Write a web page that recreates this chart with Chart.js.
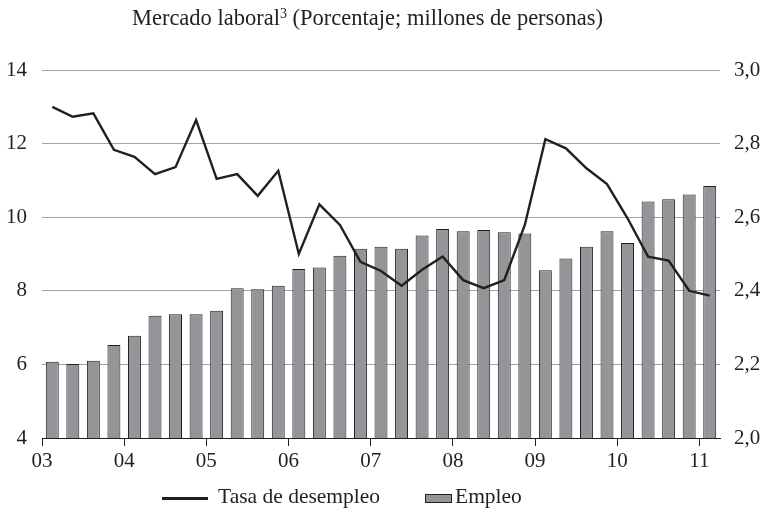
<!DOCTYPE html>
<html lang="es">

<head>
    <meta charset="UTF-8">
    <title>Mercado laboral</title>
    <style>
        body { margin: 0; background: #fff; }
        #wrap { position: relative; width: 768px; height: 519px; }
        #wrap canvas { position: absolute; left: 0; top: 0; }
        .txt { position: absolute; font-family: "Liberation Serif", serif; color: #231f20; white-space: nowrap; }
        .leg { font-size: 21.5px; line-height: 21.5px; }
        #title { left: 0; width: 735px; top: 7px; text-align: center; font-size: 22.5px; line-height: 22.5px; }
        #title sup { font-size: 14px; line-height: 0; vertical-align: 7px; }
    </style>
</head>

<body>

<div id="wrap">
    <canvas id="laborChart" width="768" height="519"></canvas>

    <div id="title" class="txt">Mercado laboral<sup>3</sup> (Porcentaje; millones de personas)</div>

    <!-- Leyenda -->
    <div class="txt" style="left:162px; top:497px; width:46px; height:2.5px; background:#231f20;"></div>
    <div class="txt leg" style="left:218px; top:486px;">Tasa de desempleo</div>
    <div class="txt" style="left:425px; top:494px; width:25px; height:7px; background:#939598; border:1px solid #231f20;"></div>
    <div class="txt leg" style="left:455px; top:486px;">Empleo</div>
</div>

<script src="https://cdn.jsdelivr.net/npm/chart.js"></script>

<script>
    // Trimestres 2003T1 - 2011T1
    const quarters = [
        '2003T1', '2003T2', '2003T3', '2003T4',
        '2004T1', '2004T2', '2004T3', '2004T4',
        '2005T1', '2005T2', '2005T3', '2005T4',
        '2006T1', '2006T2', '2006T3', '2006T4',
        '2007T1', '2007T2', '2007T3', '2007T4',
        '2008T1', '2008T2', '2008T3', '2008T4',
        '2009T1', '2009T2', '2009T3', '2009T4',
        '2010T1', '2010T2', '2010T3', '2010T4',
        '2011T1'
    ];

    // Tasa de desempleo (%), eje izquierdo
    const desempleo = [
        13.0, 12.73, 12.82, 11.83,
        11.64, 11.17, 11.36, 12.64,
        11.04, 11.17, 10.58, 11.26,
        9.0, 10.35, 9.79, 8.79,
        8.54, 8.14, 8.57, 8.93,
        8.29, 8.07, 8.29, 9.79,
        12.12, 11.87, 11.33, 10.9,
        9.97, 8.93, 8.82, 8.0,
        7.87
    ];

    // Empleo (millones de personas), eje derecho
    const empleo = [
        2.207, 2.201, 2.21, 2.253,
        2.278, 2.332, 2.336, 2.336,
        2.346, 2.407, 2.404, 2.414,
        2.459, 2.463, 2.495, 2.514,
        2.52, 2.514, 2.55, 2.568,
        2.562, 2.565, 2.559, 2.556,
        2.456, 2.488, 2.52, 2.562,
        2.53, 2.643, 2.649, 2.662,
        2.685
    ];

    const yearLabels = ['03', '04', '05', '06', '07', '08', '09', '10', '11'];
    const leftTicks = [4, 6, 8, 10, 12, 14];
    const rightTicks = [2.0, 2.2, 2.4, 2.6, 2.8, 3.0];

    const ink = '#231f20';
    const serif = 'Liberation Serif';

    const ctx = document.getElementById('laborChart').getContext('2d');
    new Chart(ctx, {
        data: {
            labels: quarters,
            datasets: [{
                type: 'line',
                label: 'Tasa de desempleo',
                data: desempleo,
                yAxisID: 'y',
                borderColor: ink,
                borderWidth: 2.4,
                pointRadius: 0,
                tension: 0,
                order: 0
            }, {
                type: 'bar',
                label: 'Empleo',
                data: empleo,
                yAxisID: 'y1',
                backgroundColor: '#939598',
                borderColor: ink,
                borderWidth: 1,
                barPercentage: 0.63,
                categoryPercentage: 1,
                order: 1
            }]
        },
        options: {
            responsive: false,
            animation: false,
            layout: { padding: { left: 0, right: 0, top: 70, bottom: 40 } },
            plugins: {
                legend: { display: false },
                tooltip: { enabled: false },
                title: { display: false }
            },
            scales: {
                x: {
                    type: 'category',
                    display: false,
                    offset: true
                },
                xYear: {
                    type: 'linear',
                    position: 'bottom',
                    min: 0,
                    max: quarters.length,
                    afterBuildTicks: s => { s.ticks = yearLabels.map((l, i) => ({ value: i * 4 })); },
                    afterFit: s => { s.height = 41; },
                    ticks: {
                        autoSkip: false,
                        maxRotation: 0,
                        color: ink,
                        padding: 3,
                        font: { family: serif, size: 21 },
                        callback: v => yearLabels[v / 4]
                    },
                    grid: { drawOnChartArea: false, drawTicks: true, tickLength: 8, color: ink },
                    border: { display: true, color: ink, width: 1 }
                },
                y: {
                    position: 'left',
                    min: 4,
                    max: 14,
                    afterBuildTicks: s => { s.ticks = leftTicks.map(v => ({ value: v })); },
                    afterFit: s => { s.width = 42; },
                    ticks: {
                        color: ink,
                        padding: 15,
                        font: { family: serif, size: 21 }
                    },
                    grid: { color: '#a3a3a3', lineWidth: 1, drawTicks: false },
                    border: { display: false }
                },
                y1: {
                    position: 'right',
                    min: 2.0,
                    max: 3.0,
                    afterBuildTicks: s => { s.ticks = rightTicks.map(v => ({ value: v })); },
                    afterFit: s => { s.width = 48; },
                    ticks: {
                        color: ink,
                        padding: 14,
                        font: { family: serif, size: 21 },
                        callback: v => v.toFixed(1).replace('.', ',')
                    },
                    grid: { drawOnChartArea: false, drawTicks: false },
                    border: { display: false }
                }
            }
        }
    });
</script>

</body>

</html>
